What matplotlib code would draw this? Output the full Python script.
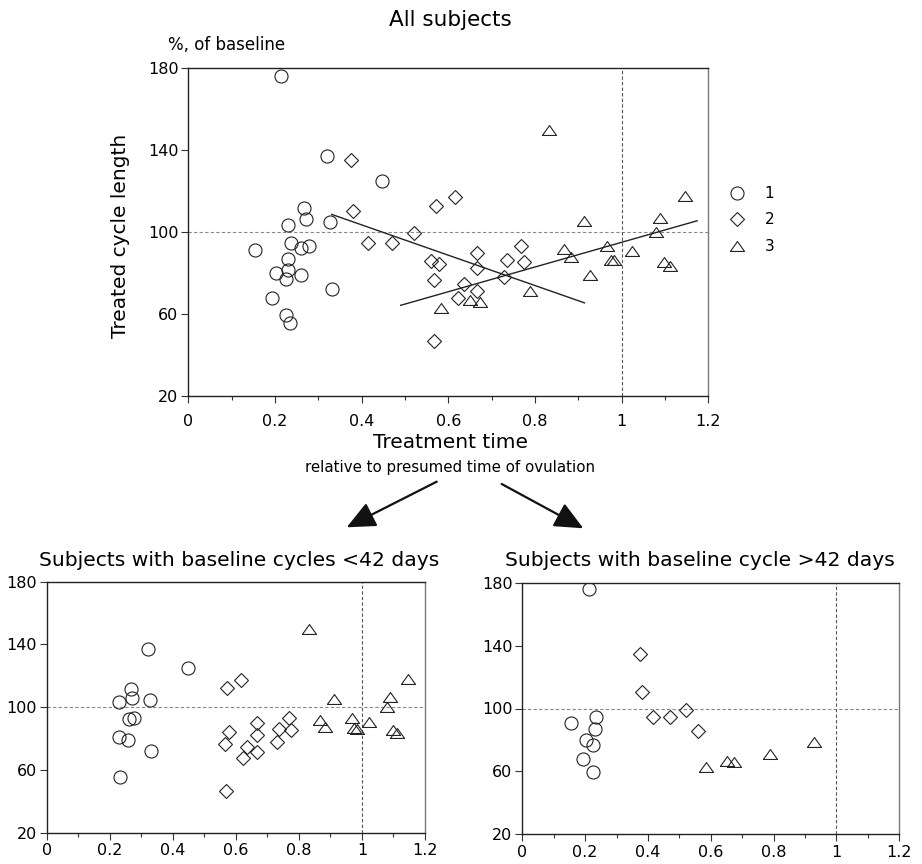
import matplotlib
matplotlib.use("Agg")
import matplotlib.pyplot as plt
import numpy as np

plt.rcParams['font.family'] = ['DejaVu Sans']

# ---------------- data ----------------
# Group 1 (circles), 2 (diamonds), 3 (triangles); split by baseline cycle length
c_short_x = [0.320, 0.447, 0.266, 0.272, 0.229, 0.327, 0.261, 0.278, 0.230, 0.259, 0.332, 0.234]
c_short_y = [137.1, 125.0, 111.6, 106.1, 103.5, 104.6, 92.2, 93.3, 81.2, 79.1, 72.3, 55.7]
c_long_x = [0.213, 0.154, 0.236, 0.231, 0.203, 0.225, 0.193, 0.226]
c_long_y = [176.0, 91.0, 94.6, 86.8, 80.0, 76.8, 67.9, 59.4]

d_short_x = [0.571, 0.616, 0.578, 0.566, 0.667, 0.667, 0.635, 0.623, 0.667, 0.729, 0.736, 0.768, 0.775, 0.568]
d_short_y = [112.4, 117.1, 84.4, 76.7, 89.9, 82.3, 74.4, 67.8, 71.2, 78.0, 86.3, 93.3, 85.4, 46.8]
d_long_x = [0.375, 0.381, 0.415, 0.470, 0.520, 0.560]
d_long_y = [134.9, 110.3, 94.6, 94.6, 99.3, 85.9]

t_short_x = [0.833, 0.912, 1.089, 1.078, 1.146, 0.867, 0.882, 0.967, 0.975, 0.983, 1.023, 1.097, 1.112]
t_short_y = [149.8, 105.2, 106.7, 99.9, 117.7, 91.8, 87.6, 92.9, 86.5, 86.3, 90.8, 85.4, 83.3]
t_long_x = [0.584, 0.651, 0.673, 0.788, 0.927]
t_long_y = [63.0, 66.8, 65.8, 71.3, 78.9]

# trend lines shown in the "All subjects" panel (end points)
fit2_x = [0.331, 0.914]
fit2_y = [108.5, 65.4]
fit3_x = [0.490, 1.174]
fit3_y = [64.2, 105.4]

group_labels = ['1', '2', '3']
x_ticks = [0, 0.2, 0.4, 0.6, 0.8, 1.0, 1.2]
x_tick_labels = ['0', '0.2', '0.4', '0.6', '0.8', '1', '1.2']
y_ticks = [20, 60, 100, 140, 180]

# ---------------- styling ----------------
W, H = 922, 864
fig = plt.figure(figsize=(W / 100, H / 100), dpi=100)

def px_axes(l, t, r, b):
    return fig.add_axes([l / W, 1 - b / H, (r - l) / W, (b - t) / H])

tri = [(-1, -0.7), (1, -0.7), (0, 0.7), (-1, -0.7)]
mk = dict(linestyle='none', markerfacecolor='none', markeredgecolor='#222222', markeredgewidth=0.8)
styles = [dict(marker='o', markersize=9.4), dict(marker='D', markersize=7.6), dict(marker=tri, markersize=10.2)]

def style_axes(ax, fs, xpad):
    ax.set_xlim(0, 1.2)
    ax.set_ylim(20, 180)
    ax.set_xticks(x_ticks)
    ax.set_xticklabels(x_tick_labels)
    ax.set_xticks(np.arange(0.1, 1.2, 0.2), minor=True)
    ax.set_yticks(y_ticks)
    ax.tick_params(axis='both', which='major', direction='out', length=5, width=0.8, labelsize=fs, pad=2, color='#333333')
    ax.tick_params(axis='x', which='major', pad=xpad)
    ax.tick_params(axis='x', which='minor', direction='out', length=3, width=0.8, color='#333333')
    for s in ['left', 'bottom', 'top']:
        ax.spines[s].set_color('#222222')
        ax.spines[s].set_linewidth(1.0)
    ax.spines['right'].set_color('#777777')
    ax.spines['right'].set_linewidth(1.0)
    ax.axhline(100, color='#888888', lw=0.8, ls=(0, (3, 2)), zorder=0)
    ax.axvline(1.0, color='#555555', lw=0.8, ls=(0, (3, 2)), zorder=0)

def scatter_groups(ax, groups):
    handles = []
    for (xs, ys), st, lab in zip(groups, styles, group_labels):
        h, = ax.plot(xs, ys, **mk, **st, label=lab)
        handles.append(h)
    return handles

# ---------------- top panel ----------------
ax0 = px_axes(188.3, 67.7, 708.4, 396)
style_axes(ax0, 11.5, 8)
handles = scatter_groups(ax0, [
    (c_short_x + c_long_x, c_short_y + c_long_y),
    (d_short_x + d_long_x, d_short_y + d_long_y),
    (t_short_x + t_long_x, t_short_y + t_long_y),
])
ax0.plot(fit2_x, fit2_y, color='#222222', lw=1.0)
ax0.plot(fit3_x, fit3_y, color='#222222', lw=1.0)

fig.legend(handles=handles, labels=group_labels, loc='upper left',
           bbox_to_anchor=(729.4 / W, 1 - 186 / H), frameon=False, fontsize=11,
           handlelength=1.0, handletextpad=1.3, labelspacing=0.75, borderpad=0, borderaxespad=0)

fig.text(450 / W, 1 - 20 / H, 'All subjects', ha='center', va='center', fontsize=15.5)
fig.text(168 / W, 1 - 45 / H, '%, of baseline', ha='left', va='center', fontsize=12)
fig.text(120 / W, 1 - 236 / H, 'Treated cycle length', ha='center', va='center', rotation=90, fontsize=14.5)
fig.text(450 / W, 1 - 443 / H, 'Treatment time', ha='center', va='center', fontsize=14.5)
fig.text(450 / W, 1 - 467 / H, 'relative to presumed time of ovulation', ha='center', va='center', fontsize=10.8)

# arrows
for (x0, y0, x1, y1) in [(436.7, 481.7, 346.7, 527.3), (501.7, 484, 583.3, 528.3)]:
    fig.add_artist(matplotlib.patches.FancyArrowPatch(
        (x0 / W, 1 - y0 / H), (x1 / W, 1 - y1 / H), transform=fig.transFigure,
        arrowstyle='-|>,head_length=1.1,head_width=0.5', mutation_scale=16,
        color='#111111', lw=1.6, shrinkA=0, shrinkB=0))

# ---------------- bottom-left panel ----------------
ax1 = px_axes(46.7, 581.7, 425, 832.7)
style_axes(ax1, 11.5, 2.5)
scatter_groups(ax1, [(c_short_x, c_short_y), (d_short_x, d_short_y), (t_short_x, t_short_y)])
fig.text(239 / W, 1 - 560 / H, 'Subjects with baseline cycles <42 days', ha='center', va='center', fontsize=14.6)

# ---------------- bottom-right panel ----------------
ax2 = px_axes(522.3, 582.7, 899.3, 834.3)
style_axes(ax2, 11.5, 2.5)
scatter_groups(ax2, [(c_long_x, c_long_y), (d_long_x, d_long_y), (t_long_x, t_long_y)])
fig.text(700 / W, 1 - 560 / H, 'Subjects with baseline cycle >42 days', ha='center', va='center', fontsize=14.6)

fig.savefig('out.png', dpi=100)
